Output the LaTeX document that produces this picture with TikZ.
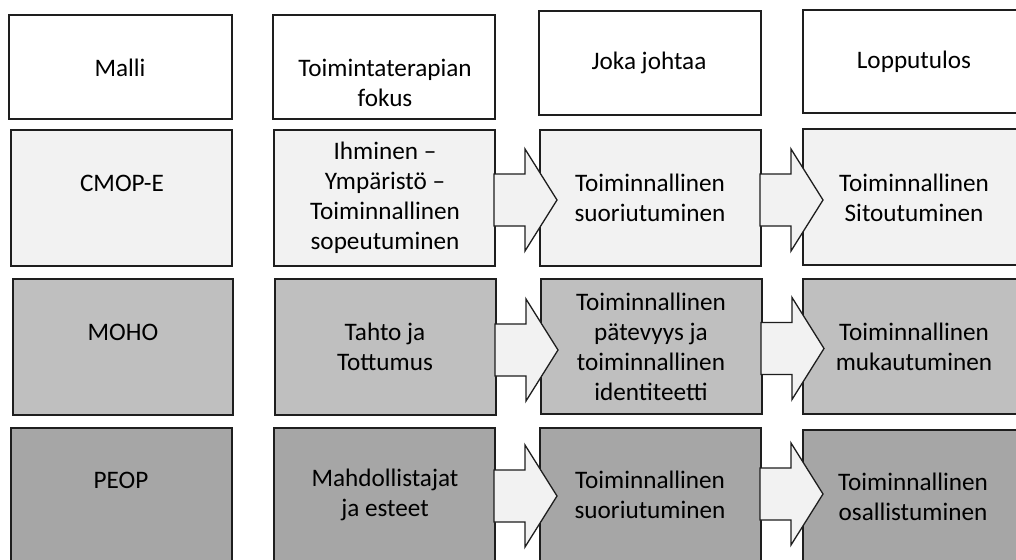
\documentclass[tikz,border=0pt]{standalone}
\usepackage{fontspec}
\setmainfont{Carlito}
\usetikzlibrary{calc}
\definecolor{rowA}{HTML}{F2F2F2}
\definecolor{rowB}{HTML}{BFBFBF}
\definecolor{rowC}{HTML}{A6A6A6}
\definecolor{edge}{HTML}{1E1E1E}
\begin{document}
\begin{tikzpicture}[x=1pt,y=-1pt,
  box/.style={draw=edge, line width=1.3pt, rectangle, inner sep=0pt, outer sep=0pt},
  hdr/.style={box, fill=white, minimum width=222pt, minimum height=104pt},
  cell/.style={box, minimum width=221pt, minimum height=136pt},
  txt/.style={font=\fontsize{25.2}{30}\selectfont, align=center, inner sep=0pt, text=black},
  blockarrow/.style={draw=edge, fill=rowA, line width=1.3pt, line join=miter}]
\clip (0,0) rectangle (1016,559);
\fill[white] (0,0) rectangle (1016,559);
% header row
\node[hdr, minimum width=223pt] (h1) at (120.5,67) {};
\node[hdr] (h2) at (384,67) {};
\node[hdr] (h3) at (650,63) {};
\node[hdr, minimum height=103pt] (h4) at (914,61.5) {};
% row 1
\node[cell, fill=rowA] (a1) at (121.5,198) {};
\node[cell, fill=rowA] (a2) at (384.5,198) {};
\node[cell, fill=rowA] (a3) at (650.5,198) {};
\node[cell, fill=rowA, minimum width=222pt] (a4) at (914,197) {};
% row 2
\node[cell, fill=rowB, minimum width=220pt] (b1) at (123,347) {};
\node[cell, fill=rowB] (b2) at (385.5,347) {};
\node[cell, fill=rowB, minimum height=135pt] (b3) at (651.5,346.5) {};
\node[cell, fill=rowB, minimum width=222pt, minimum height=135pt] (b4) at (914,346.5) {};
% row 3
\node[cell, fill=rowC] (c1) at (121.5,496) {};
\node[cell, fill=rowC] (c2) at (384.5,496) {};
\node[cell, fill=rowC] (c3) at (650.5,496) {};
\node[cell, fill=rowC, minimum width=222pt] (c4) at (914,498) {};
% block arrows
\draw[blockarrow] ($(a2.east)+(-1,-24)$) -- ++(31,0) -- ++(0,-25) -- ++(32,51) -- ++(-32,51) -- ++(0,-25) -- ++(-31,0) -- cycle;
\draw[blockarrow] ($(a3.east)+(-1,-24)$) -- ++(31,0) -- ++(0,-25) -- ++(32,51) -- ++(-32,51) -- ++(0,-25) -- ++(-31,0) -- cycle;
\draw[blockarrow] ($(b2.east)+(-1,-23)$) -- ++(31,0) -- ++(0,-25) -- ++(32,51) -- ++(-32,51) -- ++(0,-25) -- ++(-31,0) -- cycle;
\draw[blockarrow] ($(b3.east)+(-1,-24)$) -- ++(31,0) -- ++(0,-25) -- ++(32,51) -- ++(-32,51) -- ++(0,-25) -- ++(-31,0) -- cycle;
\draw[blockarrow] ($(c2.east)+(-1,-26)$) -- ++(31,0) -- ++(0,-25) -- ++(32,51) -- ++(-32,51) -- ++(0,-25) -- ++(-31,0) -- cycle;
\draw[blockarrow] ($(c3.east)+(-1,-28)$) -- ++(31,0) -- ++(0,-25) -- ++(32,51) -- ++(-32,51) -- ++(0,-25) -- ++(-31,0) -- cycle;
% texts
\node[txt] (th1) at (120,68) {Malli};
\node[txt] (th2) at (385,83) {Toimintaterapian\\fokus};
\node[txt] (th3) at (649,63) {Joka johtaa};
\node[txt] (th4) at (914,62) {Lopputulos};
\node[txt] (ta1) at (122,183) {CMOP-E};
\node[txt] (ta2) at (385,198) {Ihminen –\\Ympäristö –\\Toiminnallinen\\sopeutuminen};
\node[txt] (ta3) at (650,198) {Toiminnallinen\\suoriutuminen};
\node[txt] (ta4) at (914,198) {Toiminnallinen\\Sitoutuminen};
\node[txt] (tb1) at (123,332) {MOHO};
\node[txt] (tb2) at (385,347) {Tahto ja\\Tottumus};
\node[txt] (tb3) at (651,347) {Toiminnallinen\\pätevyys ja\\toiminnallinen\\identiteetti};
\node[txt] (tb4) at (914,347) {Toiminnallinen\\mukautuminen};
\node[txt] (tc1) at (121,480) {PEOP};
\node[txt] (tc2) at (385,495) {Mahdollistajat\\ja esteet};
\node[txt] (tc3) at (650,495) {Toiminnallinen\\suoriutuminen};
\node[txt] (tc4) at (913,497) {Toiminnallinen\\osallistuminen};
\end{tikzpicture}
\end{document}
